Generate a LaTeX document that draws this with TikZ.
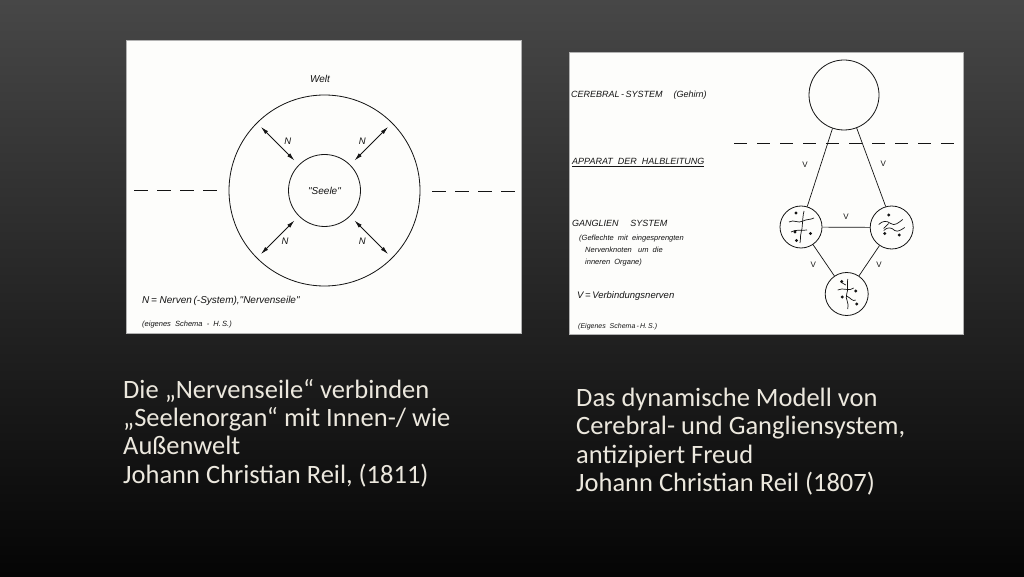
\documentclass[tikz,border=0pt]{standalone}
\usepackage{fontspec}
\setmainfont{Carlito}
\newfontfamily\lettering{Liberation Sans}
\usepackage{xcolor}
\definecolor{bgtop}{HTML}{474747}
\definecolor{bgbottom}{HTML}{050505}
\definecolor{captext}{HTML}{ECE8DE}
\definecolor{ink}{HTML}{141414}
\definecolor{paper}{HTML}{FDFDFB}
\usepackage{tikz}
\usetikzlibrary{arrows.meta,positioning,calc}

\begin{document}
\begin{tikzpicture}[x=1pt, y=1pt,
    subtitle/.style={anchor=north west, align=left, text=captext, inner sep=0pt, font=\fontsize{26.5}{28.3}\selectfont},
    sheet/.style={fill=paper, draw=gray!60, line width=0.8pt},
    ring/.style={circle, draw=ink, line width=0.8pt, inner sep=0pt},
    hand/.style={text=ink, inner sep=0pt, font=\lettering\itshape\fontsize{9}{10}\selectfont},
    note/.style={hand, anchor=base west},
    vlab/.style={text=ink, inner sep=0pt, font=\lettering\fontsize{8}{9}\selectfont},
    nerv/.style={draw=ink, line width=0.8pt, {Latex[length=8pt,width=4pt]}-{Latex[length=8pt,width=4pt]}, shorten <=6pt, shorten >=6pt},
    vnerv/.style={draw=ink, line width=0.7pt},
    cut/.style={draw=ink, line width=0.8pt, dash pattern=on 14pt off 9pt},
    plexus/.style={draw=ink, line width=0.7pt},
  ]
    \shade[top color=bgtop, bottom color=bgbottom] (0,0) rectangle (1024,576);
    \filldraw[sheet] (126,243) rectangle (521,536);
    \filldraw[sheet] (569,242) rectangle (963,524);

    % Reil 1811
    \node[hand, font=\lettering\itshape\fontsize{10}{11}\selectfont] (welt) at (320,497) {Welt};
    \node[ring, minimum size=191pt] (aussen) at (324.5,385.5) {};
    \node[ring, minimum size=72pt, hand, font=\lettering\itshape\fontsize{10}{11}\selectfont] (seele) at (324.5,385.5) {"Seele"};
    \draw[nerv] (seele.135) -- (aussen.135);
    \draw[nerv] (seele.45) -- (aussen.45);
    \draw[nerv] (seele.225) -- (aussen.225);
    \draw[nerv] (seele.315) -- (aussen.315);
    \node[hand, font=\lettering\itshape\fontsize{9.5}{10}\selectfont] (n1) at (287.7,435) {N};
    \node[hand, font=\lettering\itshape\fontsize{9.5}{10}\selectfont] (n2) at (362.3,435) {N};
    \node[hand, font=\lettering\itshape\fontsize{9.5}{10}\selectfont] (n3) at (285,335) {N};
    \node[hand, font=\lettering\itshape\fontsize{9.5}{10}\selectfont] (n4) at (362.3,335) {N};
    \draw[cut] (134,386) -- (217,386);
    \draw[cut] (432,385) -- (515,385);
    \node[note, font=\lettering\itshape\fontsize{10}{11}\selectfont] (legl) at (142,272.5) {N\,= Nerven\,(-System),"Nervenseile"};
    \node[note, font=\lettering\itshape\fontsize{7.5}{9}\selectfont] (quell) at (142,249.5) {(eigenes\ \ Schema\ \ -\ \ H.\,S.)};

    % Reil 1807
    \node[note] (cereb) at (571,478.5) {CEREBRAL\,-\,SYSTEM\hspace{1.2em}(Gehirn)};
    \node[note] (halb) at (572,411.5) {\underline{APPARAT\ \ DER\ \ HALBLEITUNG}};
    \node[note] (gangl) at (572,349.5) {GANGLIEN\hspace{1.3em}SYSTEM};
    \node[note, font=\lettering\itshape\fontsize{7.5}{9}\selectfont] (gefl1) at (579,335) {(Geflechte\ \ mit\ \ eingesprengten};
    \node[note, font=\lettering\itshape\fontsize{7.5}{9}\selectfont] (gefl2) at (585,323) {Nervenknoten\ \ \ um\ \ die};
    \node[note, font=\lettering\itshape\fontsize{7.5}{9}\selectfont] (gefl3) at (585,311) {inneren\ \ Organe)};
    \node[note, font=\lettering\itshape\fontsize{9.5}{10}\selectfont] (legr) at (577,277.5) {V\,=\,Verbindungsnerven};
    \node[note, font=\lettering\itshape\fontsize{7}{8}\selectfont] (quelr) at (578,247.5) {(Eigenes\ \ Schema\,-\,H.\,S.)};

    \node[ring, minimum size=70pt] (gehirn) at (844,481) {};
    \node[ring, minimum size=42pt] (gl) at (801,349) {};
    \node[ring, minimum size=43pt] (gr) at (891.7,348.5) {};
    \node[ring, minimum size=43pt] (gb) at (846.7,282) {};
    \draw[cut, dash pattern=on 13pt off 10pt] (734,433) -- (957,433);
    \draw[vnerv] (gehirn.251) -- (gl.73);
    \draw[vnerv] (gehirn.291) -- (gr.106);
    \draw[vnerv] (gl) -- (gr);
    \draw[vnerv] (gl) -- (gb);
    \draw[vnerv] (gr) -- (gb);
    % Labels
    \node[vlab] (v1) at (805,411) {V};
    \node[vlab] (v2) at (883.3,412) {V};
    \node[vlab] (v3) at (846,359.5) {V};
    \node[vlab] (v4) at (813.3,311) {V};
    \node[vlab] (v5) at (879,311) {V};

    % Geflechte
    \begin{scope}[shift={(gl.center)}]
      \draw[plexus] (-12,5) .. controls (-7,8) and (-3,3) .. (2,6) .. controls (6,8) and (9,7) .. (13,9);
      \draw[plexus] (3,16) .. controls (1,8) and (2,0) .. (0,-6) .. controls (-1,-10) and (0,-13) .. (-1,-16);
      \draw[plexus] (-10,-5) .. controls (-5,-2) and (0,-4) .. (6,-3);
      \fill[ink] (-5,14) circle (1.6) (-6,-5) circle (1.6) (9.5,-6.5) circle (1.6) (-4.5,-13.5) circle (1.6);
    \end{scope}
    \begin{scope}[shift={(gr.center)}]
      \draw[plexus] (-13,3) .. controls (-9,7) and (-5,7) .. (-1,4) .. controls (3,1) and (7,5) .. (11,8);
      \draw[plexus] (-8,-3) .. controls (-4,1) and (0,0) .. (3,-3) .. controls (6,-5) and (10,-2) .. (13,0);
      \draw[plexus] (-3,4) -- (-8,-1);
      \fill[ink] (-3,12.5) circle (1.6) (-7,-6) circle (1.6) (7.5,-7.5) circle (1.6);
    \end{scope}
    \begin{scope}[shift={(gb.center)}]
      \draw[plexus] (1,15) .. controls (0,9) and (2,5) .. (0,0) .. controls (-2,-5) and (3,-9) .. (1,-15);
      \draw[plexus] (-9,4) .. controls (-4,7) and (3,2) .. (7,6);
      \draw[plexus] (0,-2) .. controls (4,-4) and (6,-8) .. (9,-6);
      \draw[plexus] (-1,9) -- (-6,12);
      \fill[ink] (-5,12.5) circle (1.6) (9,3) circle (1.6) (-4.5,-3) circle (1.6) (10,-10) circle (1.6);
    \end{scope}

    % Bildunterschriften
    \node[subtitle] (capl) at (123,197) {Die „Nervenseile“ verbinden\\„Seelenorgan“ mit Innen-/ wie\\Außenwelt\\Johann Christian Reil, (1811)};
    \node[subtitle] (capr) at (576,188) {Das dynamische Modell von\\Cerebral- und Gangliensystem,\\antizipiert Freud\\Johann Christian Reil (1807)};
  \end{tikzpicture}
\end{document}
